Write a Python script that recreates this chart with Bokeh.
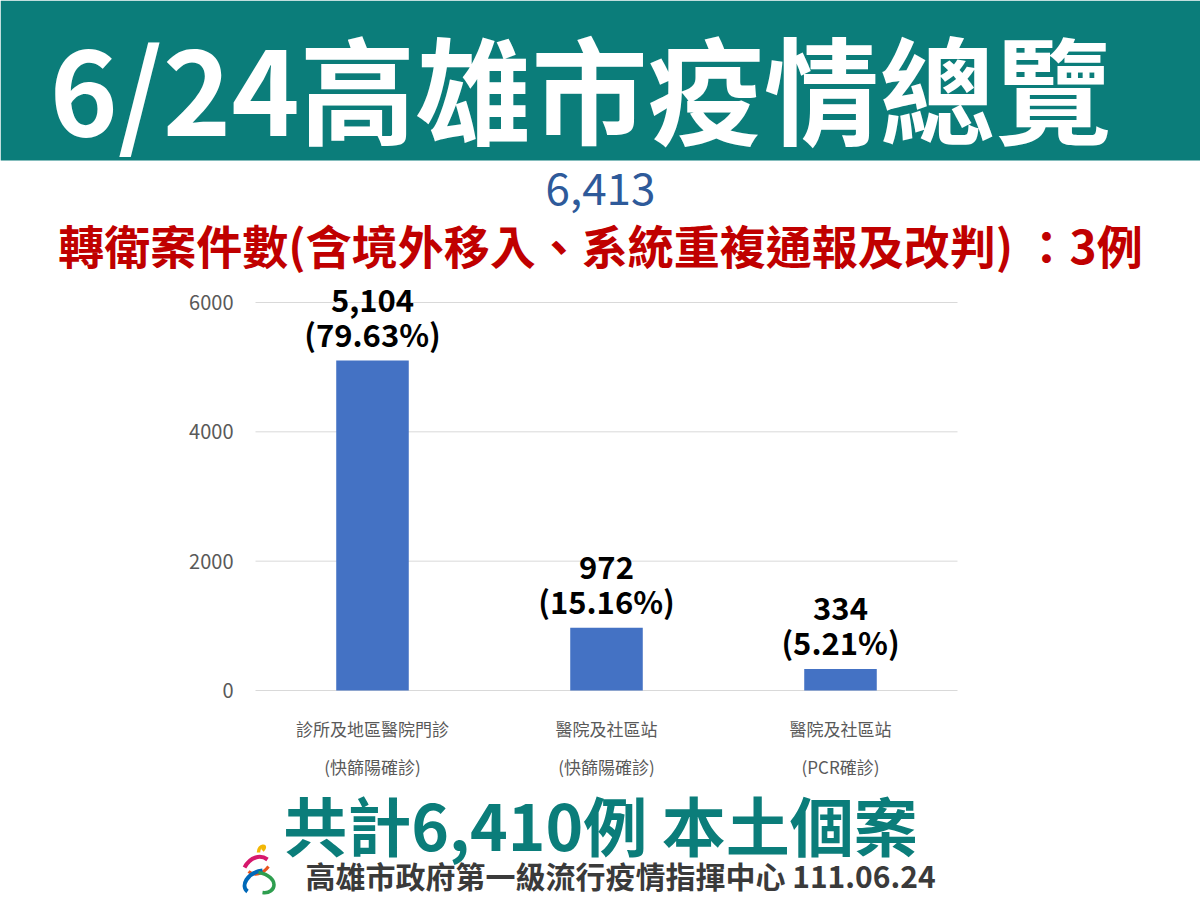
from bokeh.plotting import figure
from bokeh.models import (ColumnDataSource, LabelSet, Label, Range1d, FixedTicker, LinearAxis)
from bokeh.embed import file_html
from bokeh.resources import INLINE
from bokeh.core.properties import value

# ---------------- data ----------------
categories = ["診所及地區醫院門診\n(快篩陽確診)", "醫院及社區站\n(快篩陽確診)", "醫院及社區站\n(PCR確診)"]
counts = [5104, 972, 334]
count_labels = ["5,104", "972", "334"]
pct_labels = ["(79.63%)", "(15.16%)", "(5.21%)"]
y_ticks = [0, 2000, 4000, 6000]

title_text = "6/24高雄市疫情總覽"
total_text = "6,413"
transfer_text = "轉衛案件數(含境外移入、系統重複通報及改判) ：3例"
local_text = "共計6,410例 本土個案"
footer_text = "高雄市政府第一級流行疫情指揮中心 111.06.24"

# ---------------- layout / style ----------------
W, H = 1200, 896            # canvas (page pixels); default ranges are in pixels, y up
FONT = "Noto Sans CJK TC"
TEAL = "#0b7d7a"
BAR = "#4472C4"
GRAY = "#595959"

UNIT_PX = 234                # width of one category slot
CHART_L = 255                # left edge of plot area
CHART_R = CHART_L + 3 * UNIT_PX
ZERO_Y = H - 690             # pixel height of value 0
TOP_Y = H - 302              # pixel height of value 6000
Y_MAX = 6000
upp = Y_MAX / (TOP_Y - ZERO_Y)   # value units per pixel
chart_y = Range1d(-ZERO_Y * upp, (H - ZERO_Y) * upp)
x0 = -0.5 - CHART_L / UNIT_PX
chart_x = Range1d(x0, x0 + W / UNIT_PX)
cat_pos = list(range(len(categories)))

p = figure(width=W, height=H, x_range=Range1d(0, W), y_range=Range1d(0, H),
           output_backend="svg", toolbar_location=None, min_border=0,
           x_axis_location=None, y_axis_location=None,
           outline_line_color=None, background_fill_color="white", border_fill_color="white")
p.grid.visible = False
p.extra_x_ranges = {"chart": chart_x}
p.extra_y_ranges = {"chart": chart_y}

# header banner
p.quad(left=[0], right=[W], bottom=[H - 160], top=[H], color=TEAL, line_color=None)
p.add_layout(Label(x=580, y=H - 84, text=title_text, text_font=FONT, text_font_size="116px",
                   text_font_style="bold", text_color="white", text_align="center",
                   text_baseline="middle"))

# subtitles
p.add_layout(Label(x=600, y=H - 188, text=total_text, text_font=FONT, text_font_size="44px",
                   text_color="#2e5a9a", text_align="center", text_baseline="middle"))
p.add_layout(Label(x=600, y=H - 243, text=transfer_text, text_font=FONT, text_font_size="46px",
                   text_font_style="bold", text_color="#c00000", text_align="center",
                   text_baseline="middle"))

# chart grid lines
gsrc = ColumnDataSource(dict(y=y_ticks))
p.segment(x0=CHART_L, x1=CHART_R, y0="y", y1="y", source=gsrc, y_range_name="chart",
          line_color="#d9d9d9", line_width=1)

# bars
src = ColumnDataSource(dict(x=cat_pos, val=counts, c=count_labels, p=pct_labels))
p.vbar(x="x", top="val", width=0.31, source=src, color=BAR, line_color=None,
       x_range_name="chart", y_range_name="chart")

# axes
yax = LinearAxis(y_range_name="chart", fixed_location=CHART_L, ticker=FixedTicker(ticks=y_ticks))
yax.axis_line_color = None
yax.major_tick_line_color = None
yax.minor_tick_line_color = None
yax.major_label_text_font = FONT
yax.major_label_text_font_size = "20px"
yax.major_label_text_color = GRAY
yax.major_label_standoff = 16
p.add_layout(yax, "left")

xax = LinearAxis(x_range_name="chart", fixed_location=ZERO_Y, ticker=FixedTicker(ticks=cat_pos),
                 major_label_overrides={i: c for i, c in zip(cat_pos, categories)})
xax.axis_line_color = None
xax.major_tick_line_color = None
xax.minor_tick_line_color = None
xax.major_label_text_font = FONT
xax.major_label_text_font_size = "17px"
xax.major_label_text_color = GRAY
xax.major_label_text_line_height = 1.52
xax.major_label_standoff = 19
p.add_layout(xax, "below")

# value labels
p.add_layout(LabelSet(x="x", y="val", text="c", source=src, y_offset=60,
                      x_range_name="chart", y_range_name="chart",
                      text_align="center", text_baseline="middle", text_font=value(FONT),
                      text_font_size="31px", text_font_style="bold", text_color="black"))
p.add_layout(LabelSet(x="x", y="val", text="p", source=src, y_offset=27,
                      x_range_name="chart", y_range_name="chart",
                      text_align="center", text_baseline="middle", text_font=value(FONT),
                      text_font_size="31px", text_font_style="bold", text_color="black"))

# bottom texts
p.add_layout(Label(x=600, y=H - 822, text=local_text, text_font=FONT, text_font_size="64px",
                   text_font_style="bold", text_color=TEAL, text_align="center",
                   text_baseline="middle"))
p.add_layout(Label(x=620, y=H - 874, text=footer_text, text_font=FONT, text_font_size="30px",
                   text_font_style="bold", text_color="#3a3a3a", text_align="center",
                   text_baseline="middle"))

# decorative city logo (rough strokes)
p.bezier(x0=[258], y0=[44], x1=[262], y1=[46], cx0=[258], cy0=[52], cx1=[268], cy1=[52],
         line_color="#f2b705", line_width=3.5)
p.bezier(x0=[244], y0=[29], x1=[267], y1=[37], cx0=[250], cy0=[40], cx1=[260], cy1=[42],
         line_color="#d6186c", line_width=4)
p.bezier(x0=[248], y0=[25], x1=[268], y1=[30], cx0=[254], cy0=[20], cx1=[262], cy1=[22],
         line_color="#e8541e", line_width=3)
p.bezier(x0=[262], y0=[26], x1=[247], y1=[5], cx0=[246], cy0=[24], cx1=[240], cy1=[10],
         line_color="#0068b7", line_width=4)
p.bezier(x0=[258], y0=[24], x1=[262], y1=[4], cx0=[280], cy0=[20], cx1=[276], cy1=[2],
         line_color="#2e9e4f", line_width=3.5)

open("out.html", "w").write(file_html(p, INLINE))
